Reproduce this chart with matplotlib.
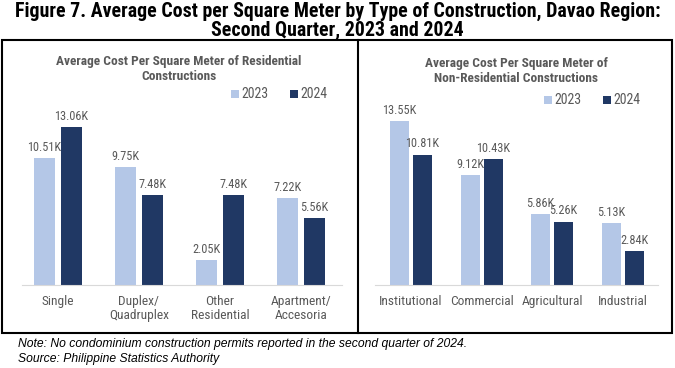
import matplotlib
matplotlib.use("Agg")
import matplotlib.pyplot as plt
from matplotlib.patches import Rectangle
from matplotlib.lines import Line2D

NARROW = ['Roboto Condensed', 'Liberation Sans', 'DejaVu Sans']
plt.rcParams['font.family'] = NARROW

# Data
res_categories = ["Single", "Duplex/\nQuadruplex", "Other\nResidential", "Apartment/\nAccesoria"]
res_2023 = [10.51, 9.75, 2.05, 7.22]
res_2024 = [13.06, 7.48, 7.48, 5.56]
nonres_categories = ["Institutional", "Commercial", "Agricultural", "Industrial"]
nonres_2023 = [13.55, 9.12, 5.86, 5.13]
nonres_2024 = [10.81, 10.43, 5.26, 2.84]
series_labels = ["2023", "2024"]

title = "Figure 7. Average Cost per Square Meter by Type of Construction, Davao Region:\nSecond Quarter, 2023 and 2024"
res_title = "Average Cost Per Square Meter of Residential\nConstructions"
nonres_title = "Average Cost Per Square Meter of\nNon-Residential Constructions"
note = "Note: No condominium construction permits reported in the second quarter of 2024."
source = "Source: Philippine Statistics Authority"

C23 = "#B4C7E7"
C24 = "#203864"
TXT = "#595959"

W, H = 675, 368
fig = plt.figure(figsize=(W/100, H/100), dpi=100)

def px_ax(x0, x1, ybot, ytop):
    return fig.add_axes([x0/W, 1-ybot/H, (x1-x0)/W, (ybot-ytop)/H])

fig.text(0.5, 1-21/H, title, ha='center', va='center', fontsize=14.3,
         fontweight='bold', color='black', linespacing=1.0)

# frame
fig.add_artist(Rectangle((2/W, 1-333/H), (672-2)/W, (333-40)/H, transform=fig.transFigure,
                         fill=False, edgecolor='black', linewidth=1.5))
fig.add_artist(Line2D([358/W, 358/W], [1-333/H, 1-40/H], transform=fig.transFigure,
                      color='black', linewidth=1.5))

def panel(ax, cats, v23, v24, off, bw, xlim):
    xs = list(range(len(cats)))
    b1 = ax.bar([x-off for x in xs], v23, width=bw, color=C23, label=series_labels[0])
    b2 = ax.bar([x+off for x in xs], v24, width=bw, color=C24, label=series_labels[1])
    for bars, vals in ((b1, v23), (b2, v24)):
        for r, v in zip(bars, vals):
            ax.annotate(f"{v:.2f}K", (r.get_x()+r.get_width()/2, v), xytext=(0, 3),
                        textcoords='offset points', ha='center', va='bottom',
                        fontsize=8.8, color=TXT)
    ax.set_xlim(*xlim)
    ax.set_ylim(0, 14)
    ax.set_xticks(xs)
    ax.set_xticklabels(cats, fontsize=9.6, color=TXT, linespacing=1.15)
    ax.tick_params(axis='x', length=0, pad=7)
    ax.set_yticks([])
    for s in ('top', 'right', 'left'):
        ax.spines[s].set_visible(False)
    ax.spines['bottom'].set_color('#D9D9D9')
    ax.set_facecolor('none')
    return b1, b2

axL = px_ax(22, 342, 285, 116)
panel(axL, res_categories, res_2023, res_2024, 0.167, 0.26, (-0.444, 3.506))
axR = px_ax(375, 658, 285, 116)
panel(axR, nonres_categories, nonres_2023, nonres_2024, 0.163, 0.27, (-0.51, 3.50))

fig.text(179/W, 1-69/H, res_title, ha='center', va='center', fontsize=9.6,
         fontweight='bold', color=TXT, linespacing=1.2)
fig.text(516/W, 1-71/H, nonres_title, ha='center', va='center', fontsize=9.6,
         fontweight='bold', color=TXT, linespacing=1.2)

def legend(x0, y):
    for i, (lab, c) in enumerate(zip(series_labels, (C23, C24))):
        xx = x0 + i*59
        fig.add_artist(Rectangle((xx/W, 1-(y+4)/H), 8/W, 8/H, transform=fig.transFigure,
                                 facecolor=c, edgecolor='none'))
        fig.text((xx+10)/W, 1-y/H, lab, ha='left', va='center', fontsize=10, color=TXT)

legend(231, 94)
legend(544, 100)

fig.text(18/W, 1-344/H, note, ha='left', va='center', fontsize=8.7, style='italic',
         color='black', family=['Liberation Sans', 'DejaVu Sans'])
fig.text(18/W, 1-359/H, source, ha='left', va='center', fontsize=8.7, style='italic',
         color='black', family=['Liberation Sans', 'DejaVu Sans'])

fig.savefig("out.png", dpi=100)
